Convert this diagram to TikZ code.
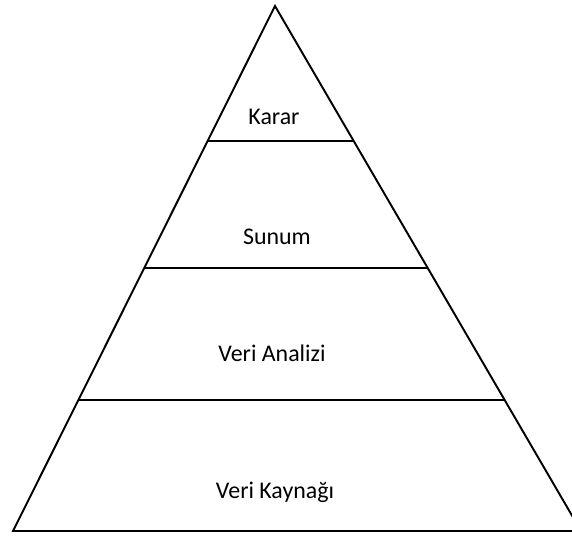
\documentclass[tikz,border=0pt]{standalone}
\usepackage{fontspec}
\setmainfont{Carlito}
\usepackage{tikz}

\begin{document}
\begin{tikzpicture}[line join=miter,font=\fontsize{13.6}{16}\selectfont]
\useasboundingbox (0,0) rectangle (11.44,10.7);
\begin{scope}
\clip (0,0) rectangle (11.44,10.7);
\draw[line width=1.1pt] (5.5,10.58) -- (0.26,0.08) -- (11.62,0.08) -- cycle;
\draw[line width=1.1pt] (4.152,7.88) -- (7.074,7.88);
\draw[line width=1.1pt] (2.886,5.34) -- (8.554,5.34);
\draw[line width=1.1pt] (1.568,2.70) -- (10.092,2.70);
\end{scope}
\node (karar) at (5.48,8.36) {Karar};
\node (sunum) at (5.54,5.96) {Sunum};
\node (analiz) at (5.44,3.64) {Veri Analizi};
\node (kaynak) at (5.5,0.86) {Veri Kaynağı};
\end{tikzpicture}
\end{document}
